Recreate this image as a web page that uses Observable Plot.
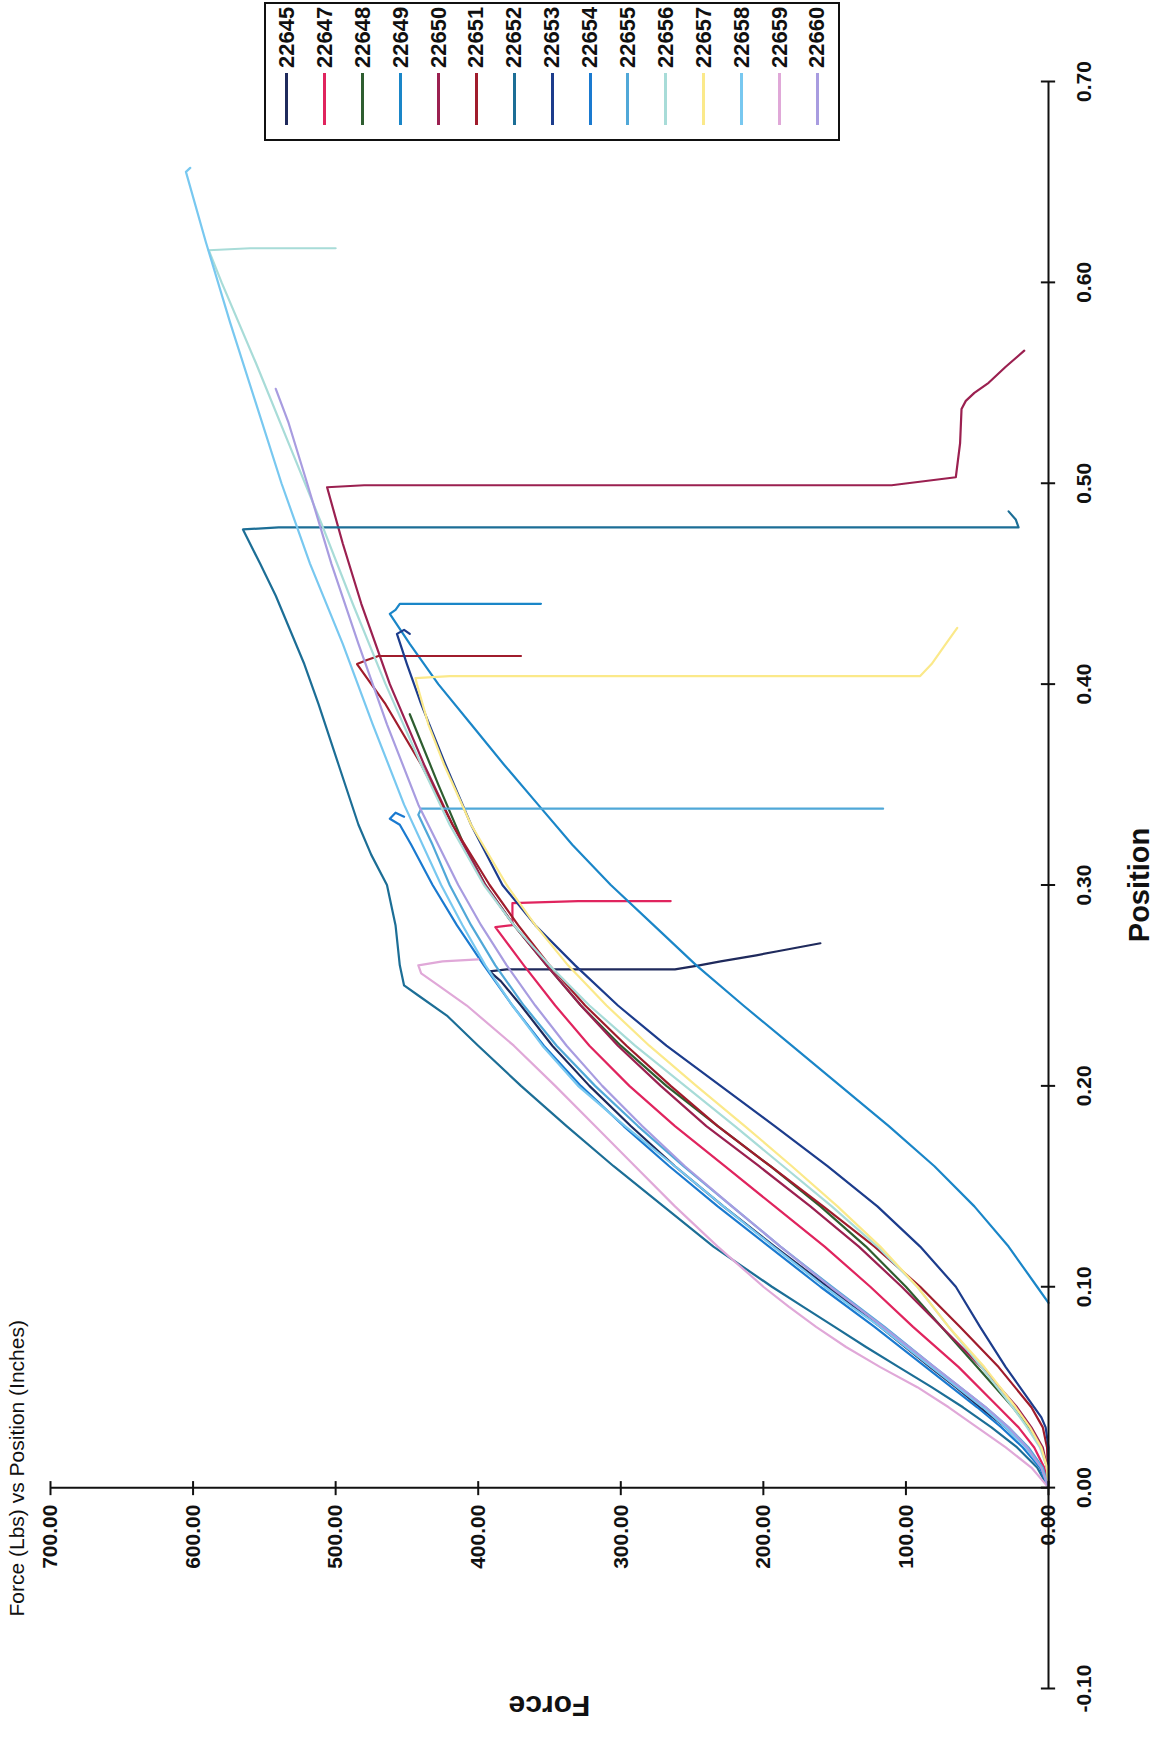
<!DOCTYPE html>
<html>
<head>
<meta charset="utf-8">
<script src="https://cdn.jsdelivr.net/npm/d3@7"></script>
<script src="https://cdn.jsdelivr.net/npm/@observablehq/plot@0.6"></script>
<style>
  html, body { margin: 0; padding: 0; background: #fff; overflow: hidden; }
  #page { position: absolute; left: 0; top: 0; width: 1760px; height: 1159px;
          transform-origin: 0 0; transform: translate(0px, 1760px) rotate(-90deg);
          font-family: "Liberation Sans", Arial, sans-serif; background: #fff; }
  #legend { position: absolute; left: 1619px; top: 264px; width: 135px; height: 570px;
            border: 2px solid #111; background: #fff; padding-top: 2px; box-sizing: content-box; }
  .row { height: 37.9px; display: flex; align-items: center; }
  .sw { width: 52px; height: 0; margin-left: 14px; }
  .lab { margin-left: 5px; font-size: 22px; font-weight: bold; color: #111; }
</style>
</head>
<body>
<div id="page"><div id="chart"></div><div id="legend"></div></div>
<script>
// ---- data ----
const seriesNames = ["22645","22647","22648","22649","22650","22651","22652","22653","22654","22655","22656","22657","22658","22659","22660"];
const seriesColors = ["#1f2a5c","#e0245e","#2e5e30","#1a86c8","#9b2050","#a01c2c","#1c6e96","#1c3c8c","#1a7ad0","#50a8d8","#a8dcd8","#fbe98a","#78c8f0","#e0a8d8","#a89ce0"];
const xTicks = [-0.1, 0, 0.1, 0.2, 0.3, 0.4, 0.5, 0.6, 0.7];
const yTicks = [0, 100, 200, 300, 400, 500, 600, 700];

// [position (in), force (lbs)]
const c22645 = [[0,0],[0.01,5],[0.02,15],[0.03,30],[0.04,48],[0.05,65],[0.06,83],[0.08,118],[0.10,155],[0.12,192],[0.14,228],[0.16,262],[0.18,293],[0.20,322],[0.22,348],[0.24,370],[0.252,384],[0.257,392],[0.258,380],[0.258,262],[0.26,245],[0.262,230],[0.265,205],[0.267,190],[0.269,175],[0.271,160]];
const c22647 = [[0,0],[0.01,3],[0.02,10],[0.03,21],[0.04,35],[0.06,63],[0.08,95],[0.10,125],[0.12,157],[0.14,192],[0.16,227],[0.18,262],[0.20,294],[0.22,322],[0.24,346],[0.26,368],[0.279,388],[0.28,376],[0.291,376],[0.292,330],[0.292,265]];
const c22648 = [[0,0],[0.01,1],[0.02,5],[0.03,14],[0.04,25],[0.06,50],[0.08,75],[0.10,100],[0.12,128],[0.14,160],[0.16,195],[0.18,232],[0.20,268],[0.22,300],[0.24,328],[0.26,352],[0.28,375],[0.30,395],[0.32,410],[0.35,428],[0.385,448]];
const c22649 = [[0.092,0],[0.10,8],[0.12,28],[0.14,52],[0.16,80],[0.18,112],[0.20,146],[0.22,180],[0.24,214],[0.26,247],[0.28,277],[0.30,307],[0.32,334],[0.34,358],[0.36,382],[0.38,405],[0.40,428],[0.42,448],[0.435,462],[0.437,458],[0.44,455],[0.44,400],[0.44,356]];
const c22650 = [[0,0],[0.01,1],[0.02,4],[0.03,12],[0.04,22],[0.06,47],[0.08,75],[0.10,103],[0.12,133],[0.14,167],[0.16,203],[0.18,240],[0.20,272],[0.22,302],[0.24,328],[0.26,352],[0.28,375],[0.30,395],[0.33,418],[0.36,438],[0.40,462],[0.44,482],[0.47,495],[0.498,506],[0.499,480],[0.499,300],[0.499,110],[0.503,65],[0.52,62],[0.537,61],[0.541,58],[0.545,52],[0.55,42],[0.558,30],[0.566,17]];
const c22651 = [[0,0],[0.02,1],[0.03,4],[0.04,12],[0.06,35],[0.08,62],[0.10,90],[0.12,122],[0.14,158],[0.16,195],[0.18,232],[0.20,265],[0.22,296],[0.24,325],[0.26,350],[0.28,372],[0.30,392],[0.33,418],[0.36,440],[0.39,465],[0.41,485],[0.412,478],[0.414,470],[0.414,370]];
const c22652 = [[0,0],[0.01,8],[0.02,22],[0.03,40],[0.04,60],[0.05,82],[0.06,105],[0.07,128],[0.08,150],[0.09,172],[0.10,194],[0.12,235],[0.14,270],[0.16,305],[0.18,338],[0.20,370],[0.22,400],[0.235,422],[0.245,442],[0.25,452],[0.26,455],[0.28,458],[0.30,464],[0.315,475],[0.33,484],[0.36,498],[0.39,512],[0.41,522],[0.444,542],[0.46,553],[0.477,565],[0.478,540],[0.478,300],[0.478,21],[0.482,23],[0.486,28]];
const c22653 = [[0,0],[0.02,0],[0.03,2],[0.035,5],[0.04,10],[0.06,30],[0.08,48],[0.10,65],[0.12,90],[0.14,120],[0.16,155],[0.18,192],[0.20,230],[0.22,268],[0.24,302],[0.26,332],[0.28,360],[0.30,383],[0.33,405],[0.36,423],[0.39,440],[0.41,450],[0.425,457],[0.427,452],[0.425,448]];
const c22654 = [[0,0],[0.01,6],[0.02,18],[0.03,33],[0.04,50],[0.06,86],[0.08,122],[0.10,160],[0.12,196],[0.14,232],[0.16,266],[0.18,298],[0.20,328],[0.22,354],[0.24,376],[0.26,396],[0.28,415],[0.30,432],[0.32,447],[0.33,455],[0.333,462],[0.336,458],[0.334,452]];
const c22655 = [[0,0],[0.01,4],[0.02,14],[0.03,28],[0.04,44],[0.06,80],[0.08,115],[0.10,152],[0.12,188],[0.14,222],[0.16,256],[0.18,288],[0.20,318],[0.22,345],[0.24,368],[0.26,388],[0.28,405],[0.30,420],[0.32,432],[0.335,442],[0.338,440],[0.338,300],[0.338,116]];
const c22656 = [[0,0],[0.01,1],[0.02,6],[0.03,15],[0.04,25],[0.06,47],[0.08,70],[0.10,92],[0.12,120],[0.14,152],[0.16,186],[0.18,220],[0.20,255],[0.22,290],[0.24,322],[0.26,350],[0.28,375],[0.30,396],[0.33,420],[0.36,440],[0.40,465],[0.44,488],[0.48,510],[0.52,533],[0.56,556],[0.60,580],[0.616,589],[0.617,560],[0.617,500]];
const c22657 = [[0,0],[0.01,1],[0.02,5],[0.03,13],[0.04,23],[0.06,45],[0.08,70],[0.10,92],[0.12,118],[0.14,148],[0.16,180],[0.18,213],[0.20,247],[0.22,280],[0.24,310],[0.26,337],[0.28,360],[0.30,380],[0.33,405],[0.36,424],[0.38,435],[0.40,443],[0.403,444],[0.404,420],[0.404,200],[0.404,90],[0.41,82],[0.42,72],[0.428,64]];
const c22658 = [[0,0],[0.01,5],[0.02,16],[0.03,30],[0.04,46],[0.06,82],[0.08,118],[0.09,138],[0.10,157],[0.12,193],[0.14,228],[0.16,262],[0.18,297],[0.20,330],[0.22,355],[0.24,376],[0.26,395],[0.28,411],[0.30,426],[0.34,452],[0.38,474],[0.42,495],[0.46,518],[0.50,538],[0.54,556],[0.58,574],[0.62,591],[0.655,605],[0.657,602]];
const c22659 = [[0,0],[0.01,12],[0.02,30],[0.03,50],[0.04,70],[0.05,92],[0.06,118],[0.07,142],[0.08,163],[0.09,182],[0.10,200],[0.12,232],[0.14,262],[0.16,290],[0.18,318],[0.20,346],[0.22,375],[0.24,408],[0.25,428],[0.256,440],[0.26,442],[0.262,425],[0.263,400]];
const c22660 = [[0,0],[0.01,5],[0.02,15],[0.03,28],[0.04,44],[0.06,80],[0.08,116],[0.10,153],[0.12,188],[0.14,222],[0.16,255],[0.18,285],[0.20,313],[0.22,338],[0.24,360],[0.26,380],[0.28,398],[0.30,414],[0.34,442],[0.38,464],[0.42,484],[0.46,503],[0.50,520],[0.53,533],[0.547,542]];

const curves = [c22645,c22647,c22648,c22649,c22650,c22651,c22652,c22653,c22654,c22655,c22656,c22657,c22658,c22659,c22660];

// ---- build table ----
const rows = [];
curves.forEach((c, i) => c.forEach(([p, f]) => rows.push({series: seriesNames[i], p, f})));

const font = "'Liberation Sans', Arial, sans-serif";
const chart = Plot.plot({
  width: 1760, height: 1159,
  marginLeft: 71, marginRight: 82, marginTop: 50, marginBottom: 111,
  x: {domain: [-0.1, 0.7], axis: null},
  y: {domain: [0, 700], axis: null},
  color: {domain: seriesNames, range: seriesColors},
  style: {fontFamily: font, background: "#fff", color: "#111", overflow: "visible"},
  marks: [
    Plot.line(rows, {x: "p", y: "f", z: "series", stroke: "series", strokeWidth: 2.2, curve: "linear"}),
    Plot.ruleY([0], {x1: -0.1, x2: 0.7, stroke: "#111", strokeWidth: 2}),
    Plot.ruleX([0], {y1: 0, y2: 700, stroke: "#111", strokeWidth: 2}),
    Plot.ruleX(xTicks, {x: d => d, y1: -5, y2: 5, stroke: "#111", strokeWidth: 2}),
    Plot.ruleY(yTicks, {y: d => d, x1: -0.0035, x2: 0.0035, stroke: "#111", strokeWidth: 2}),
    Plot.text(xTicks, {x: d => d, y: 0, dy: 36, text: d => d.toFixed(2), fontSize: 21, fontWeight: "bold", fill: "#111"}),
    Plot.text(yTicks, {x: 0, y: d => d, dx: -17, textAnchor: "end", text: d => d.toFixed(2), fontSize: 21, fontWeight: "bold", fill: "#111"}),
    Plot.text(["Position"], {frameAnchor: "bottom", dy: 91, textAnchor: "middle", lineAnchor: "middle", fontSize: 29, fontWeight: "bold", fill: "#111"}),
    Plot.text(["Force"], {frameAnchor: "left", dx: -17, rotate: -90, textAnchor: "middle", lineAnchor: "middle", fontSize: 30, fontWeight: "bold", fill: "#111"}),
    Plot.text(["Force (Lbs) vs Position (Inches)"], {frameAnchor: "top-left", dx: 72, dy: -33, textAnchor: "start", lineAnchor: "middle", fontSize: 21, fill: "#111"})
  ]
});
document.getElementById("chart").appendChild(chart);

// ---- legend ----
const leg = document.getElementById("legend");
seriesNames.forEach((name, i) => {
  const r = document.createElement("div");
  r.className = "row";
  const sw = document.createElement("div");
  sw.className = "sw";
  sw.style.borderTop = `3px solid ${seriesColors[i]}`;
  const lab = document.createElement("span");
  lab.className = "lab";
  lab.textContent = name;
  r.appendChild(sw); r.appendChild(lab);
  leg.appendChild(r);
});
</script>
</body>
</html>
